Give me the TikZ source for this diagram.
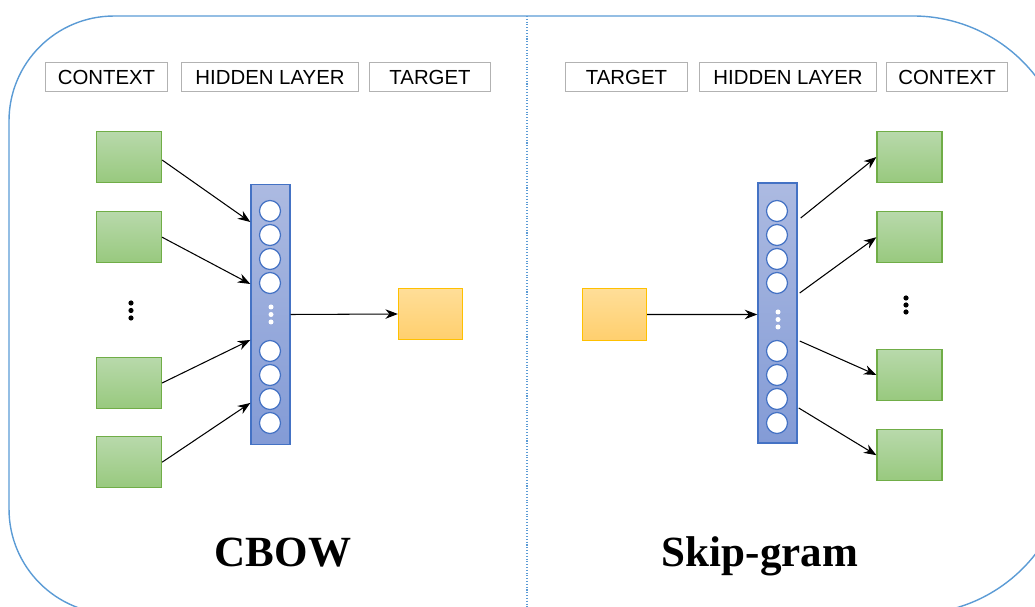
\documentclass[tikz,border=0pt]{standalone}
\usepackage{fontspec}
\setmainfont{Liberation Serif}
\setsansfont{Liberation Sans}
\usetikzlibrary{arrows.meta, positioning}

\definecolor{frameblue}{RGB}{91,155,213}
\definecolor{boxgray}{RGB}{178,178,178}
\definecolor{ctxline}{RGB}{112,173,71}
\definecolor{ctxtop}{RGB}{184,217,171}
\definecolor{ctxbot}{RGB}{152,201,126}
\definecolor{tgtline}{RGB}{255,192,0}
\definecolor{tgttop}{RGB}{255,222,152}
\definecolor{tgtbot}{RGB}{255,207,110}
\definecolor{barline}{RGB}{68,114,196}
\definecolor{bartop}{RGB}{172,186,225}
\definecolor{barbot}{RGB}{131,155,214}

\begin{document}
\begin{tikzpicture}[
    x=0.02cm, y=-0.02cm,
    header/.style={rectangle, draw=boxgray, line width=0.6pt, minimum height=0.58cm, inner sep=0pt, font=\sffamily\fontsize{11.6}{13}\selectfont},
    ctxbox/.style={rectangle, draw=ctxline, line width=0.7pt, top color=ctxtop, bottom color=ctxbot, minimum width=1.3cm, minimum height=1.02cm, inner sep=0pt},
    tgtbox/.style={rectangle, draw=tgtline, line width=0.7pt, top color=tgttop, bottom color=tgtbot, minimum width=1.28cm, minimum height=1.03cm, inner sep=0pt},
    hidbar/.style={rectangle, draw=barline, line width=0.8pt, top color=bartop, bottom color=barbot, minimum width=0.78cm, minimum height=5.2cm, inner sep=0pt},
    unit/.style={circle, draw=barline, line width=0.7pt, fill=white, minimum size=0.42cm, inner sep=0pt},
    arrow/.style={line width=0.6pt, -{Stealth[length=2.5mm, width=1.9mm]}},
    title/.style={font=\bfseries\fontsize{24.5}{28}\selectfont}
]
    \useasboundingbox (0,0) rectangle (1035,607);

    % outer frame and the split between the two models
    \draw[frameblue, line width=0.8pt] (9,300) -- (9,121)
        arc[start angle=180, end angle=90, radius=2.1cm] -- (913,16)
        arc[start angle=90, end angle=0, radius=3.1cm] -- (1068,459)
        arc[start angle=0, end angle=-90, radius=3.1cm] -- (114,614)
        arc[start angle=270, end angle=180, radius=2.1cm] -- cycle;
    \draw[frameblue, densely dotted, line width=0.6pt] (527,16) -- (527,614);

    % column headers
    \node[header, minimum width=2.44cm] (hdL1) at (106.5,77) {CONTEXT};
    \node[header, minimum width=3.54cm, right=0.26cm of hdL1] (hdL2) {HIDDEN LAYER};
    \node[header, minimum width=2.42cm, right=0.2cm of hdL2] (hdL3) {TARGET};
    \node[header, minimum width=2.44cm] (hdR1) at (626.5,77) {TARGET};
    \node[header, minimum width=3.54cm, right=0.22cm of hdR1] (hdR2) {HIDDEN LAYER};
    \node[header, minimum width=2.42cm, right=0.18cm of hdR2] (hdR3) {CONTEXT};

    % CBOW
    \node[ctxbox] (ctxL1) at (129,157) {};
    \node[ctxbox, below=0.56cm of ctxL1] (ctxL2) {};
    \node[ctxbox] (ctxL3) at (129,383) {};
    \node[ctxbox, below=0.54cm of ctxL3] (ctxL4) {};
    \foreach \y in {303,310.5,318} \fill (131,\y) circle (0.052cm);

    \node[hidbar] (hidL) at (270.5,314.5) {};
    \foreach \y [count=\i] in {211,235,259,283,351,375,399,423}
        \node[unit] (uL\i) at (270,\y) {};
    \foreach \y in {307,314.5,322} \fill[white] (271,\y) circle (0.05cm);

    \node[tgtbox] (tgtL) at (430.5,314) {};

    \draw[arrow] ([yshift=-0.06cm]ctxL1.east) -- ([yshift=1.85cm]hidL.west);
    \draw[arrow] (ctxL2.east) -- ([yshift=0.61cm]hidL.west);
    \draw[arrow] (ctxL3.east) -- ([yshift=-0.51cm]hidL.west);
    \draw[arrow] (ctxL4.east) -- ([yshift=-1.77cm]hidL.west);
    \draw[arrow] (hidL.east) -- (tgtL.west);

    \node[title, anchor=base] (cbow) at (283,567) {CBOW};

    % Skip-gram
    \node[tgtbox] (tgtR) at (614.5,314.5) {};

    \node[hidbar] (hidR) at (777.5,313) {};
    \foreach \y [count=\i] in {211,235,259,283,351,375,399,423}
        \node[unit] (uR\i) at (777,\y) {};
    \foreach \y in {312,319.5,327} \fill[white] (778,\y) circle (0.05cm);

    \node[ctxbox] (ctxR1) at (909.5,157) {};
    \node[ctxbox, below=0.56cm of ctxR1] (ctxR2) {};
    \node[ctxbox] (ctxR3) at (909.5,375) {};
    \node[ctxbox, below=0.56cm of ctxR3] (ctxR4) {};
    \foreach \y in {298,305,312} \fill (906,\y) circle (0.052cm);

    \draw[arrow] (tgtR.east) -- ([yshift=-0.03cm]hidR.west);
    \draw[arrow] ([xshift=0.06cm, yshift=1.9cm]hidR.east) -- (ctxR1.west);
    \draw[arrow] ([xshift=0.04cm, yshift=0.4cm]hidR.east) -- (ctxR2.west);
    \draw[arrow] ([xshift=0.04cm, yshift=-0.56cm]hidR.east) -- (ctxR3.west);
    \draw[arrow] ([xshift=0.02cm, yshift=-1.9cm]hidR.east) -- (ctxR4.west);

    \node[title, anchor=base] (skipgram) at (760,567) {Skip-gram};
\end{tikzpicture}
\end{document}
